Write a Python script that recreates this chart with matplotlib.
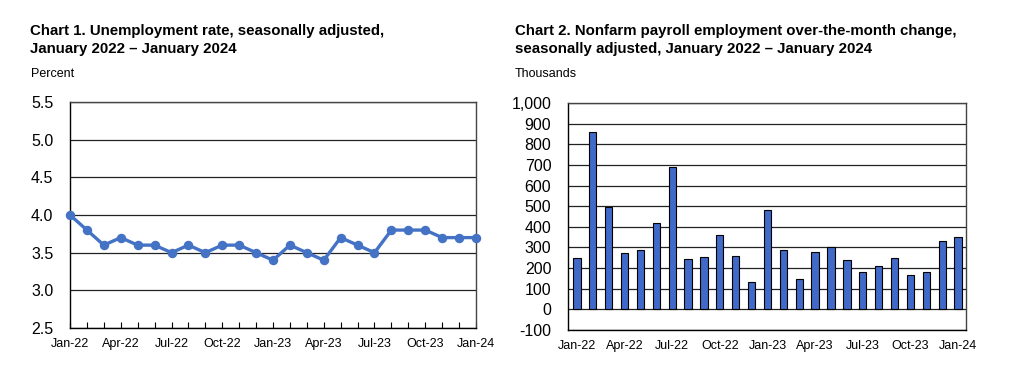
import numpy as np
import matplotlib.pyplot as plt
import matplotlib

matplotlib.rcParams['font.family'] = ['Liberation Sans', 'DejaVu Sans']

# 数据
months = ['Jan-22', 'Feb-22', 'Mar-22', 'Apr-22', 'May-22', 'Jun-22', 'Jul-22', 'Aug-22',
          'Sep-22', 'Oct-22', 'Nov-22', 'Dec-22', 'Jan-23', 'Feb-23', 'Mar-23', 'Apr-23',
          'May-23', 'Jun-23', 'Jul-23', 'Aug-23', 'Sep-23', 'Oct-23', 'Nov-23', 'Dec-23', 'Jan-24']
unemployment = [4.0, 3.8, 3.6, 3.7, 3.6, 3.6, 3.5, 3.6, 3.5, 3.6, 3.6, 3.5, 3.4,
                3.6, 3.5, 3.4, 3.7, 3.6, 3.5, 3.8, 3.8, 3.8, 3.7, 3.7, 3.7]
payroll = [251, 861, 495, 272, 286, 419, 689, 243, 256, 359, 259, 134, 481,
           286, 146, 277, 304, 240, 183, 210, 248, 165, 181, 333, 353]

LINE_COLOR = '#4472C4'
BAR_COLOR = '#4169C8'
W, H = 1029, 376

fig = plt.figure(figsize=(W / 100, H / 100), dpi=100)


def px_axes(x0, y0, x1, y1):
    return fig.add_axes([x0 / W, 1 - y1 / H, (x1 - x0) / W, (y1 - y0) / H])


x = np.arange(len(months))
major = x[::3]

# ---- Chart 1 ----
ax1 = px_axes(70, 102, 476, 328)
ax1.plot(x, unemployment, '-o', color=LINE_COLOR, lw=2.4, ms=5.8, clip_on=False, zorder=3)
ax1.set_xlim(0, 24)
ax1.set_ylim(2.5, 5.5)
ax1.set_yticks(np.arange(2.5, 5.51, 0.5))
ax1.set_yticklabels([f'{v:.1f}' for v in np.arange(2.5, 5.51, 0.5)], fontsize=11.5)
ax1.set_xticks(major)
ax1.set_xticklabels([months[i] for i in major], fontsize=9)
ax1.set_xticks(x, minor=True)
ax1.tick_params(axis='x', which='both', direction='in', length=4, width=0.8, pad=7)
ax1.tick_params(axis='y', length=0, pad=12)
ax1.yaxis.grid(True, color='#222222', lw=0.9)
ax1.set_axisbelow(True)
for s in ax1.spines.values():
    s.set_linewidth(1.0)
ax1.spines['top'].set_color('#444444')
ax1.spines['right'].set_color('#444444')

fig.text(30 / W, 1 - 40 / H, 'Chart 1. Unemployment rate, seasonally adjusted,\nJanuary 2022 \u2013 January 2024',
         fontsize=10.8, fontweight='bold', va='center', linespacing=1.3)
fig.text(31 / W, 1 - 74 / H, 'Percent', fontsize=9, va='center')

# ---- Chart 2 ----
ax2 = px_axes(568, 103, 966, 330)
ax2.bar(x, payroll, width=0.46, color=BAR_COLOR, edgecolor='black', linewidth=0.8, zorder=3)
ax2.set_xlim(-0.56, 24.5)
ax2.set_ylim(-100, 1000)
yt = np.arange(-100, 1001, 100)
ax2.set_yticks(yt)
ax2.set_yticklabels([f'{v:,}' for v in yt], fontsize=11.5)
ax2.set_xticks(major)
ax2.set_xticklabels([months[i] for i in major], fontsize=9)
ax2.tick_params(axis='x', length=0, pad=7)
ax2.tick_params(axis='y', length=0, pad=12)
ax2.yaxis.grid(True, color='#222222', lw=0.9)
ax2.set_axisbelow(True)
for s in ax2.spines.values():
    s.set_linewidth(1.0)
ax2.spines['top'].set_color('#444444')
ax2.spines['right'].set_color('#444444')

fig.text(515 / W, 1 - 40 / H, 'Chart 2. Nonfarm payroll employment over-the-month change,\nseasonally adjusted, January 2022 \u2013 January 2024',
         fontsize=10.8, fontweight='bold', va='center', linespacing=1.3)
fig.text(515 / W, 1 - 74 / H, 'Thousands', fontsize=9, va='center')

fig.savefig('out.png', dpi=100)
